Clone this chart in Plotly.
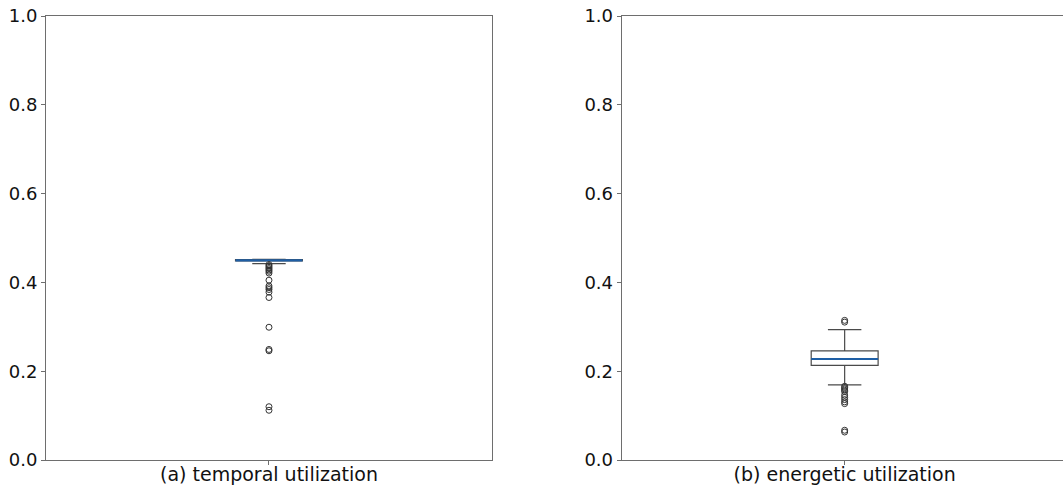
import plotly.graph_objects as go

# ---- data ----
labels = ["(a) temporal utilization", "(b) energetic utilization"]
y_ticks = [0.0, 0.2, 0.4, 0.6, 0.8, 1.0]

# box statistics: q1, median, q3, lower whisker, upper whisker
temporal_stats = {"q1": 0.4485, "median": 0.4495, "q3": 0.4515, "lo": 0.4425, "hi": 0.452}
temporal_outliers = [0.440, 0.437, 0.434, 0.431, 0.428, 0.425, 0.421, 0.405, 0.392, 0.388,
                     0.384, 0.378, 0.366, 0.299, 0.249, 0.246, 0.120, 0.112]

energetic_stats = {"q1": 0.213, "median": 0.2275, "q3": 0.246, "lo": 0.169, "hi": 0.2935}
energetic_outliers = [0.3145, 0.3105, 0.166, 0.163, 0.160, 0.157, 0.154, 0.146, 0.141,
                      0.136, 0.131, 0.127, 0.067, 0.063]

pos = 1.0
box_w = 0.15

fig = go.Figure()

def add_box(stats, outliers, xa, ya):
    fig.add_trace(go.Box(
        x=[pos], q1=[stats["q1"]], median=[stats["median"]], q3=[stats["q3"]],
        lowerfence=[stats["lo"]], upperfence=[stats["hi"]],
        width=box_w, whiskerwidth=0.5, boxpoints=False,
        fillcolor="white", line=dict(color="#4a4a4a", width=1.2),
        xaxis=xa, yaxis=ya, showlegend=False, hoverinfo="skip"))
    fig.add_trace(go.Scatter(
        x=[pos - box_w / 2, pos + box_w / 2], y=[stats["median"], stats["median"]],
        mode="lines", line=dict(color="#1f5fa5", width=2.2),
        xaxis=xa, yaxis=ya, showlegend=False, hoverinfo="skip"))
    fig.add_trace(go.Scatter(
        x=[pos] * len(outliers), y=outliers, mode="markers",
        marker=dict(symbol="circle-open", size=6, color="#333333", line=dict(width=1)),
        xaxis=xa, yaxis=ya, showlegend=False, hoverinfo="skip"))

add_box(temporal_stats, temporal_outliers, "x", "y")
add_box(energetic_stats, energetic_outliers, "x2", "y2")

y_font = dict(family="DejaVu Sans", size=18, color="#111111")
x_font = dict(family="DejaVu Sans", size=19, color="#111111")
spine = "#6e6e6e"

common_x = dict(showgrid=False, zeroline=False, showline=True, linecolor=spine, linewidth=1,
                ticks="outside", ticklen=4, tickcolor=spine, tickfont=x_font,
                tickvals=[pos], fixedrange=True, automargin=False, ticklabelstandoff=-7)
common_y = dict(showgrid=False, zeroline=False, showline=True, linecolor=spine, linewidth=1,
                ticks="outside", ticklen=4, tickcolor=spine, tickfont=y_font,
                range=[0, 1], tickvals=y_ticks, tickformat=".1f", automargin=False)

fig.update_layout(
    width=1063, height=488,
    margin=dict(l=46, r=0, t=16, b=28),
    paper_bgcolor="white", plot_bgcolor="white",
    xaxis=dict(domain=[0, 0.4385], range=[0.5, 1.5], ticktext=[labels[0]], mirror=True, anchor="y", **common_x),
    yaxis=dict(domain=[0, 1], anchor="x", mirror=True, **common_y),
    xaxis2=dict(domain=[0.566, 1.0], range=[0.5, 1.4895], ticktext=[labels[1]], mirror=True, anchor="y2", **common_x),
    yaxis2=dict(domain=[0, 1], anchor="x2", mirror=False, **common_y),
)

fig.write_html("out.html")
